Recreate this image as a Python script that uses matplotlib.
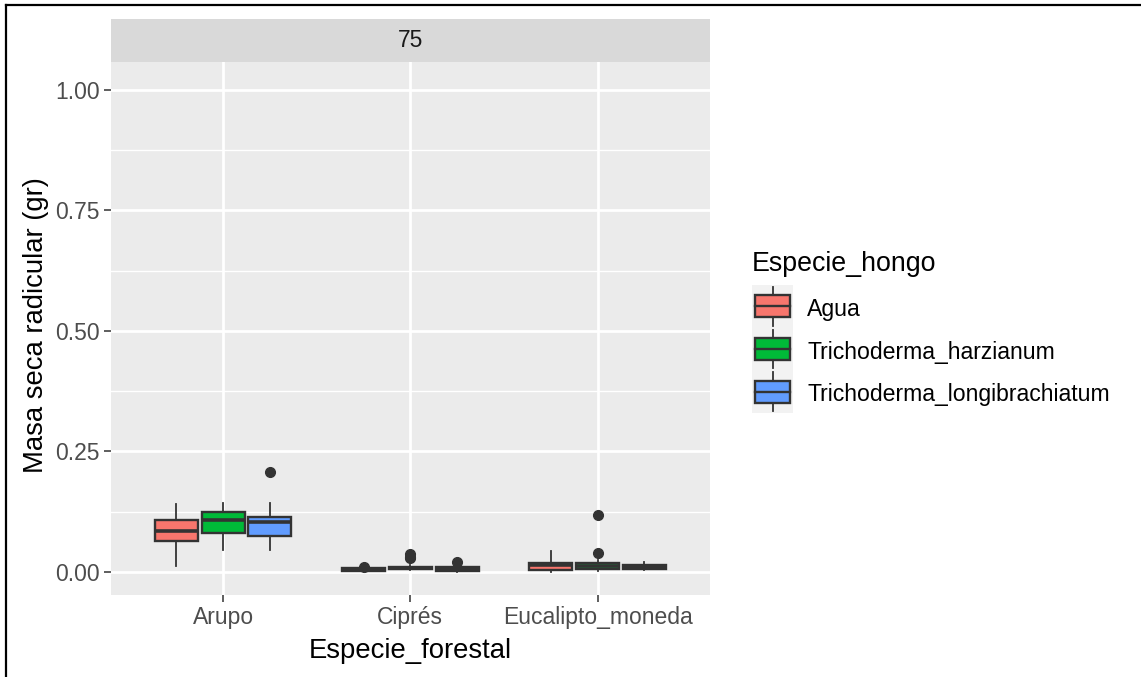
import matplotlib.pyplot as plt
from matplotlib.lines import Line2D
from matplotlib.patches import Rectangle
from matplotlib.ticker import MultipleLocator

plt.rcParams['font.family'] = ['Liberation Sans', 'DejaVu Sans']

species = ["Arupo", "Ciprés", "Eucalipto_moneda"]
fungi = ["Agua", "Trichoderma_harzianum", "Trichoderma_longibrachiatum"]
colors = ["#F8766D", "#00BA38", "#619CFF"]

# box statistics per species (rows) and fungus (columns)
q1 = [[0.065, 0.080, 0.075],
      [0.003, 0.006, 0.003],
      [0.004, 0.006, 0.007]]
med = [[0.084, 0.108, 0.103],
       [0.006, 0.008, 0.007],
       [0.015, 0.012, 0.011]]
q3 = [[0.108, 0.124, 0.115],
      [0.009, 0.011, 0.010],
      [0.019, 0.018, 0.015]]
whis_lo = [[0.013, 0.046, 0.046],
           [0.001, 0.004, 0.001],
           [0.001, 0.002, 0.005]]
whis_hi = [[0.141, 0.144, 0.144],
           [0.009, 0.014, 0.014],
           [0.044, 0.025, 0.021]]
outliers = [[[], [], [0.207]],
            [[0.011], [0.029, 0.032, 0.037], [0.021]],
            [[], [0.039, 0.118], []]]

W, H = 1141, 677
fig = plt.figure(figsize=(W / 100, H / 100), dpi=100)

# panel
ax = fig.add_axes([110.7 / W, 1 - 595 / H, (710 - 110.7) / W, (595 - 61.7) / H])
ax.set_facecolor("#EBEBEB")
for s in ax.spines.values():
    s.set_visible(False)

offsets = [-0.25, 0.0, 0.25]
for i in range(len(species)):
    for j in range(len(fungi)):
        st = dict(q1=q1[i][j], med=med[i][j], q3=q3[i][j],
                  whislo=whis_lo[i][j], whishi=whis_hi[i][j],
                  fliers=outliers[i][j])
        ax.bxp([st], positions=[i + 1 + offsets[j]], widths=0.23,
               patch_artist=True, showcaps=False, manage_ticks=False,
               boxprops=dict(facecolor=colors[j], edgecolor="#333333", linewidth=1.7),
               medianprops=dict(color="#333333", linewidth=2.6, solid_capstyle="butt"),
               whiskerprops=dict(color="#333333", linewidth=1.3),
               flierprops=dict(marker="o", markerfacecolor="#333333",
                               markeredgecolor="#333333", markersize=7))

ax.set_xlim(0.4, 3.6)
ax.set_ylim(-0.0477, 1.058)
ax.set_xticks([1, 2, 3])
ax.set_xticklabels(species)
ax.yaxis.set_major_locator(MultipleLocator(0.25))
ax.yaxis.set_minor_locator(MultipleLocator(0.125))
ax.set_yticks([0, 0.25, 0.5, 0.75, 1.0])
ax.set_yticklabels(["0.00", "0.25", "0.50", "0.75", "1.00"])
ax.grid(which="major", color="white", linewidth=2.0)
ax.grid(which="minor", axis="y", color="white", linewidth=1.0)
ax.set_axisbelow(True)
ax.tick_params(which="major", length=5, width=1.1, color="#333333",
               labelsize=16.5, labelcolor="#4D4D4D", pad=3)
ax.tick_params(which="minor", length=0)

# facet strip
strip = fig.add_axes([110.7 / W, 1 - 61.7 / H, (710 - 110.7) / W, (61.7 - 19) / H])
strip.set_facecolor("#D9D9D9")
strip.set_xticks([])
strip.set_yticks([])
for s in strip.spines.values():
    s.set_visible(False)
strip.text(0.5, 0.5, "75", ha="center", va="center", fontsize=16.5, color="#1A1A1A",
           transform=strip.transAxes)

# axis titles
fig.text(36 / W, 1 - 325 / H, "Masa seca radicular (gr)", rotation=90,
         ha="center", va="center", fontsize=19.8, color="black")
fig.text(410 / W, 1 - 651 / H, "Especie_forestal", ha="center", va="center",
         fontsize=19.8, color="black")

# legend and frame drawn on a pixel-space overlay
ov = fig.add_axes([0, 0, 1, 1])
ov.set_xlim(0, W)
ov.set_ylim(H, 0)
ov.axis("off")
ov.patch.set_alpha(0)

ov.text(752, 271, "Especie_hongo", ha="left", va="baseline", fontsize=19.3, color="black")
key_top = 285
key_h = 42.7
ov.add_patch(Rectangle((752, key_top), 41, key_h * 3, facecolor="#F2F2F2", edgecolor="none"))
for j, name in enumerate(fungi):
    y0 = key_top + j * key_h
    yc = y0 + key_h / 2
    ov.add_line(Line2D([772.5, 772.5], [y0 + 2, y0 + key_h - 2], color="#333333", linewidth=1.3))
    ov.add_patch(Rectangle((755, yc - 11), 35, 22, facecolor=colors[j],
                           edgecolor="#333333", linewidth=1.7, zorder=3))
    ov.add_line(Line2D([755, 790], [yc, yc], color="#333333", linewidth=1.7, zorder=4))
    ov.text(807, y0 + 31, name, ha="left", va="baseline", fontsize=16.6, color="black")

# screenshot frame edges
ov.add_line(Line2D([6, 6], [5, H], color="black", linewidth=1.6))
ov.add_line(Line2D([6, W], [5, 5], color="black", linewidth=1.6))

fig.savefig("out.png", dpi=100)
